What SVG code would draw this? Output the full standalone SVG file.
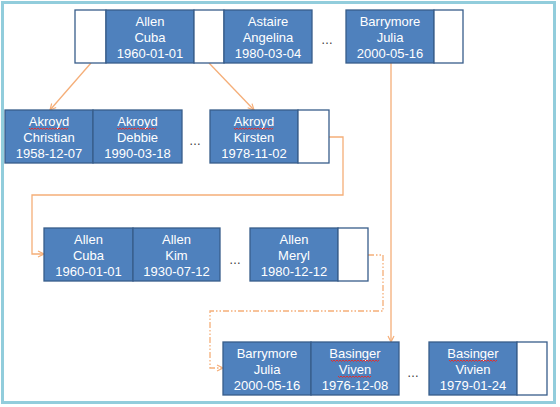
<svg xmlns="http://www.w3.org/2000/svg" width="560" height="407" viewBox="0 0 560 407">
<style>
.cell{fill:#4f81bd;stroke:#385d8a;stroke-width:1.3}
.ptr{fill:#ffffff;stroke:#385d8a;stroke-width:1.3}
.t{font-family:"Liberation Sans",Arial,sans-serif;font-size:13px;fill:#ffffff;text-anchor:middle}
.dots{font-family:"Liberation Sans",Arial,sans-serif;font-size:12px;fill:#333333;text-anchor:middle}
.con{fill:none;stroke:#f5ae78;stroke-width:1.3}
.dash{stroke-dasharray:6 2 1.5 2 1.5 2}
.wave{fill:none;stroke:#e03030;stroke-width:1}
</style>
<defs>
<marker id="arr" viewBox="0 0 8 8" refX="7" refY="4" markerWidth="8" markerHeight="8" orient="auto" markerUnits="userSpaceOnUse">
<path d="M1,1 L7,4 L1,7" fill="none" stroke="#f5ae78" stroke-width="1.2"/>
</marker>
</defs>
<rect x="0" y="0" width="560" height="407" fill="#ffffff"/>
<rect x="2.5" y="2.5" width="552" height="400" fill="none" stroke="#92cddc" stroke-width="3"/>

<g id="connectors">
<path class="con" d="M91,63 L50,110" marker-end="url(#arr)"/>
<path class="con" d="M209,63 L254,110" marker-end="url(#arr)"/>
<path class="con" d="M391,63 L391,342" marker-end="url(#arr)"/>
<path class="con" d="M329,137 H343 V195 H32 V254 H44" marker-end="url(#arr)"/>
<path class="con dash" d="M368,255 H383 V311 H210 V368 H223" marker-end="url(#arr)"/>
</g>

<g id="node-root">
<rect class="ptr" x="75" y="10" width="31" height="53"/>
<rect class="cell" x="106" y="10" width="88" height="53"/>
<rect class="ptr" x="194" y="10" width="30" height="53"/>
<rect class="cell" x="224" y="10" width="88" height="53"/>
<rect class="cell" x="346" y="10" width="88" height="53"/>
<rect class="ptr" x="434" y="10" width="29" height="53"/>
<text class="t" x="150" y="25.5">Allen</text>
<text class="t" x="150" y="41.5">Cuba</text>
<text class="t" x="150" y="57.5">1960-01-01</text>
<text class="t" x="268" y="25.5">Astaire</text>
<text class="t" x="268" y="41.5">Angelina</text>
<text class="t" x="268" y="57.5">1980-03-04</text>
<text class="dots" x="327" y="44">…</text>
<text class="t" x="390" y="25.5">Barrymore</text>
<text class="t" x="390" y="41.5">Julia</text>
<text class="t" x="390" y="57.5">2000-05-16</text>
</g>

<g id="node-akroyd">
<rect class="cell" x="5" y="110" width="88" height="53"/>
<rect class="cell" x="93" y="110" width="89" height="53"/>
<rect class="cell" x="210" y="110" width="88" height="53"/>
<rect class="ptr" x="298" y="110" width="31" height="53"/>
<text class="t" x="49" y="125.5">Akroyd</text>
<text class="t" x="49" y="141.5">Christian</text>
<text class="t" x="49" y="157.5">1958-12-07</text>
<text class="t" x="137.5" y="125.5">Akroyd</text>
<text class="t" x="137.5" y="141.5">Debbie</text>
<text class="t" x="137.5" y="157.5">1990-03-18</text>
<text class="dots" x="195" y="145">…</text>
<text class="t" x="254" y="125.5">Akroyd</text>
<text class="t" x="254" y="141.5">Kirsten</text>
<text class="t" x="254" y="157.5">1978-11-02</text>
<path class="wave" d="M29,128 l1.5,1.5 l1.5,-1.5 l1.5,1.5 l1.5,-1.5 l1.5,1.5 l1.5,-1.5 l1.5,1.5 l1.5,-1.5 l1.5,1.5 l1.5,-1.5 l1.5,1.5 l1.5,-1.5 l1.5,1.5 l1.5,-1.5 l1.5,1.5 l1.5,-1.5 l1.5,1.5 l1.5,-1.5 l1.5,1.5 l1.5,-1.5 l1.5,1.5 l1.5,-1.5 l1.5,1.5 l1.5,-1.5 l1.5,1.5 l1.5,-1.5"/>
<path class="wave" d="M117,128 l1.5,1.5 l1.5,-1.5 l1.5,1.5 l1.5,-1.5 l1.5,1.5 l1.5,-1.5 l1.5,1.5 l1.5,-1.5 l1.5,1.5 l1.5,-1.5 l1.5,1.5 l1.5,-1.5 l1.5,1.5 l1.5,-1.5 l1.5,1.5 l1.5,-1.5 l1.5,1.5 l1.5,-1.5 l1.5,1.5 l1.5,-1.5 l1.5,1.5 l1.5,-1.5 l1.5,1.5 l1.5,-1.5 l1.5,1.5 l1.5,-1.5"/>
<path class="wave" d="M234,128 l1.5,1.5 l1.5,-1.5 l1.5,1.5 l1.5,-1.5 l1.5,1.5 l1.5,-1.5 l1.5,1.5 l1.5,-1.5 l1.5,1.5 l1.5,-1.5 l1.5,1.5 l1.5,-1.5 l1.5,1.5 l1.5,-1.5 l1.5,1.5 l1.5,-1.5 l1.5,1.5 l1.5,-1.5 l1.5,1.5 l1.5,-1.5 l1.5,1.5 l1.5,-1.5 l1.5,1.5 l1.5,-1.5 l1.5,1.5 l1.5,-1.5"/>
</g>

<g id="node-allen">
<rect class="cell" x="44" y="228" width="89" height="53"/>
<rect class="cell" x="133" y="228" width="87" height="53"/>
<rect class="cell" x="250" y="228" width="88" height="53"/>
<rect class="ptr" x="338" y="228" width="30" height="53"/>
<text class="t" x="88.5" y="243.5">Allen</text>
<text class="t" x="88.5" y="259.5">Cuba</text>
<text class="t" x="88.5" y="275.5">1960-01-01</text>
<text class="t" x="176.5" y="243.5">Allen</text>
<text class="t" x="176.5" y="259.5">Kim</text>
<text class="t" x="176.5" y="275.5">1930-07-12</text>
<text class="dots" x="235" y="264">…</text>
<text class="t" x="294" y="243.5">Allen</text>
<text class="t" x="294" y="259.5">Meryl</text>
<text class="t" x="294" y="275.5">1980-12-12</text>
</g>

<g id="node-barrymore">
<rect class="cell" x="223" y="342" width="88" height="53"/>
<rect class="cell" x="311" y="342" width="88" height="53"/>
<rect class="cell" x="429" y="342" width="88" height="53"/>
<rect class="ptr" x="517" y="342" width="30" height="53"/>
<text class="t" x="267" y="357.5">Barrymore</text>
<text class="t" x="267" y="373.5">Julia</text>
<text class="t" x="267" y="389.5">2000-05-16</text>
<text class="t" x="355" y="357.5">Basinger</text>
<text class="t" x="355" y="373.5">Viven</text>
<text class="t" x="355" y="389.5">1976-12-08</text>
<text class="dots" x="413" y="377">…</text>
<text class="t" x="473" y="357.5">Basinger</text>
<text class="t" x="473" y="373.5">Vivien</text>
<text class="t" x="473" y="389.5">1979-01-24</text>
<path class="wave" d="M331,360 l1.5,1.5 l1.5,-1.5 l1.5,1.5 l1.5,-1.5 l1.5,1.5 l1.5,-1.5 l1.5,1.5 l1.5,-1.5 l1.5,1.5 l1.5,-1.5 l1.5,1.5 l1.5,-1.5 l1.5,1.5 l1.5,-1.5 l1.5,1.5 l1.5,-1.5 l1.5,1.5 l1.5,-1.5 l1.5,1.5 l1.5,-1.5 l1.5,1.5 l1.5,-1.5 l1.5,1.5 l1.5,-1.5 l1.5,1.5 l1.5,-1.5 l1.5,1.5 l1.5,-1.5 l1.5,1.5 l1.5,-1.5 l1.5,1.5 l1.5,-1.5"/>
<path class="wave" d="M449,360 l1.5,1.5 l1.5,-1.5 l1.5,1.5 l1.5,-1.5 l1.5,1.5 l1.5,-1.5 l1.5,1.5 l1.5,-1.5 l1.5,1.5 l1.5,-1.5 l1.5,1.5 l1.5,-1.5 l1.5,1.5 l1.5,-1.5 l1.5,1.5 l1.5,-1.5 l1.5,1.5 l1.5,-1.5 l1.5,1.5 l1.5,-1.5 l1.5,1.5 l1.5,-1.5 l1.5,1.5 l1.5,-1.5 l1.5,1.5 l1.5,-1.5 l1.5,1.5 l1.5,-1.5 l1.5,1.5 l1.5,-1.5 l1.5,1.5 l1.5,-1.5"/>
<path class="wave" d="M338,376 l1.5,1.5 l1.5,-1.5 l1.5,1.5 l1.5,-1.5 l1.5,1.5 l1.5,-1.5 l1.5,1.5 l1.5,-1.5 l1.5,1.5 l1.5,-1.5 l1.5,1.5 l1.5,-1.5 l1.5,1.5 l1.5,-1.5 l1.5,1.5 l1.5,-1.5 l1.5,1.5 l1.5,-1.5 l1.5,1.5 l1.5,-1.5 l1.5,1.5 l1.5,-1.5"/>
</g>
</svg>
